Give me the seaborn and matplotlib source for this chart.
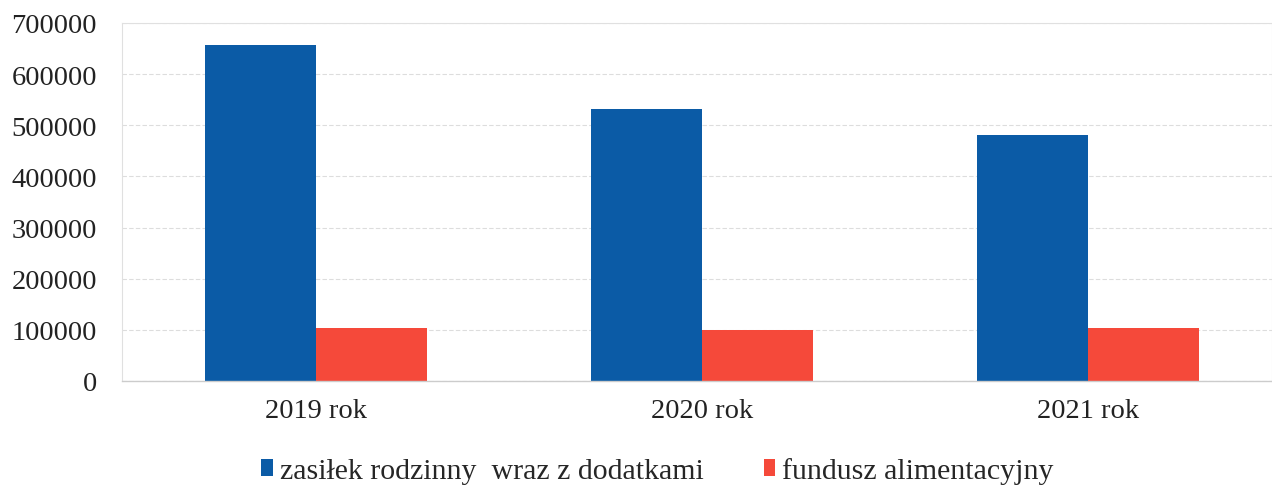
import matplotlib
matplotlib.use("Agg")
import matplotlib.pyplot as plt
import seaborn as sns
import pandas as pd

years = ["2019 rok", "2020 rok", "2021 rok"]
series_names = ["zasiłek rodzinny  wraz z dodatkami", "fundusz alimentacyjny"]
zasilek = [657000, 532000, 481000]
fundusz = [103000, 100500, 104000]
yticks = [0, 100000, 200000, 300000, 400000, 500000, 600000, 700000]

df = pd.DataFrame({
    "rok": years * 2,
    "seria": [series_names[0]] * 3 + [series_names[1]] * 3,
    "wartosc": zasilek + fundusz,
})

sns.set_theme(style="white")
plt.rcParams["font.family"] = ["Liberation Serif", "DejaVu Serif"]

fig = plt.figure(figsize=(12.72, 4.89), dpi=100)
ax = fig.add_axes([0.096, 0.219, 0.904, 0.732])

palette = {series_names[0]: "#0b5ba6", series_names[1]: "#f5493a"}
sns.barplot(data=df, x="rok", y="wartosc", hue="seria", palette=palette,
            width=0.575, gap=0, saturation=1, linewidth=0, ax=ax, legend=True)

ax.set_ylim(0, 700000)
ax.set_xlim(-0.503, 2.477)
ax.set_yticks(yticks)
ax.set_yticklabels([str(v) for v in yticks], fontsize=20.5, color="#222222")
ax.tick_params(axis="x", labelsize=20.5, colors="#222222", length=0, pad=12)
ax.tick_params(axis="y", length=0, pad=18)
ax.set_xlabel("")
ax.set_ylabel("")
ax.yaxis.grid(True, color="#dddddd", linewidth=0.8, linestyle=(0, (4, 2)))
ax.set_axisbelow(True)
for s in ["top", "right", "left"]:
    ax.spines[s].set_color("#e0e0e0")
    ax.spines[s].set_linewidth(0.8)
ax.spines["bottom"].set_color("#cccccc")
ax.spines["bottom"].set_linewidth(1.0)

handles, labels = ax.get_legend_handles_labels()
ax.legend_.remove()
fig.legend(handles, labels, loc="center", bbox_to_anchor=(0.517, 0.035), ncol=2,
           frameon=False, fontsize=21.5, handlelength=0.38, handleheight=0.5,
           handletextpad=0.25, columnspacing=2.0)

fig.savefig("out.png", dpi=100)
